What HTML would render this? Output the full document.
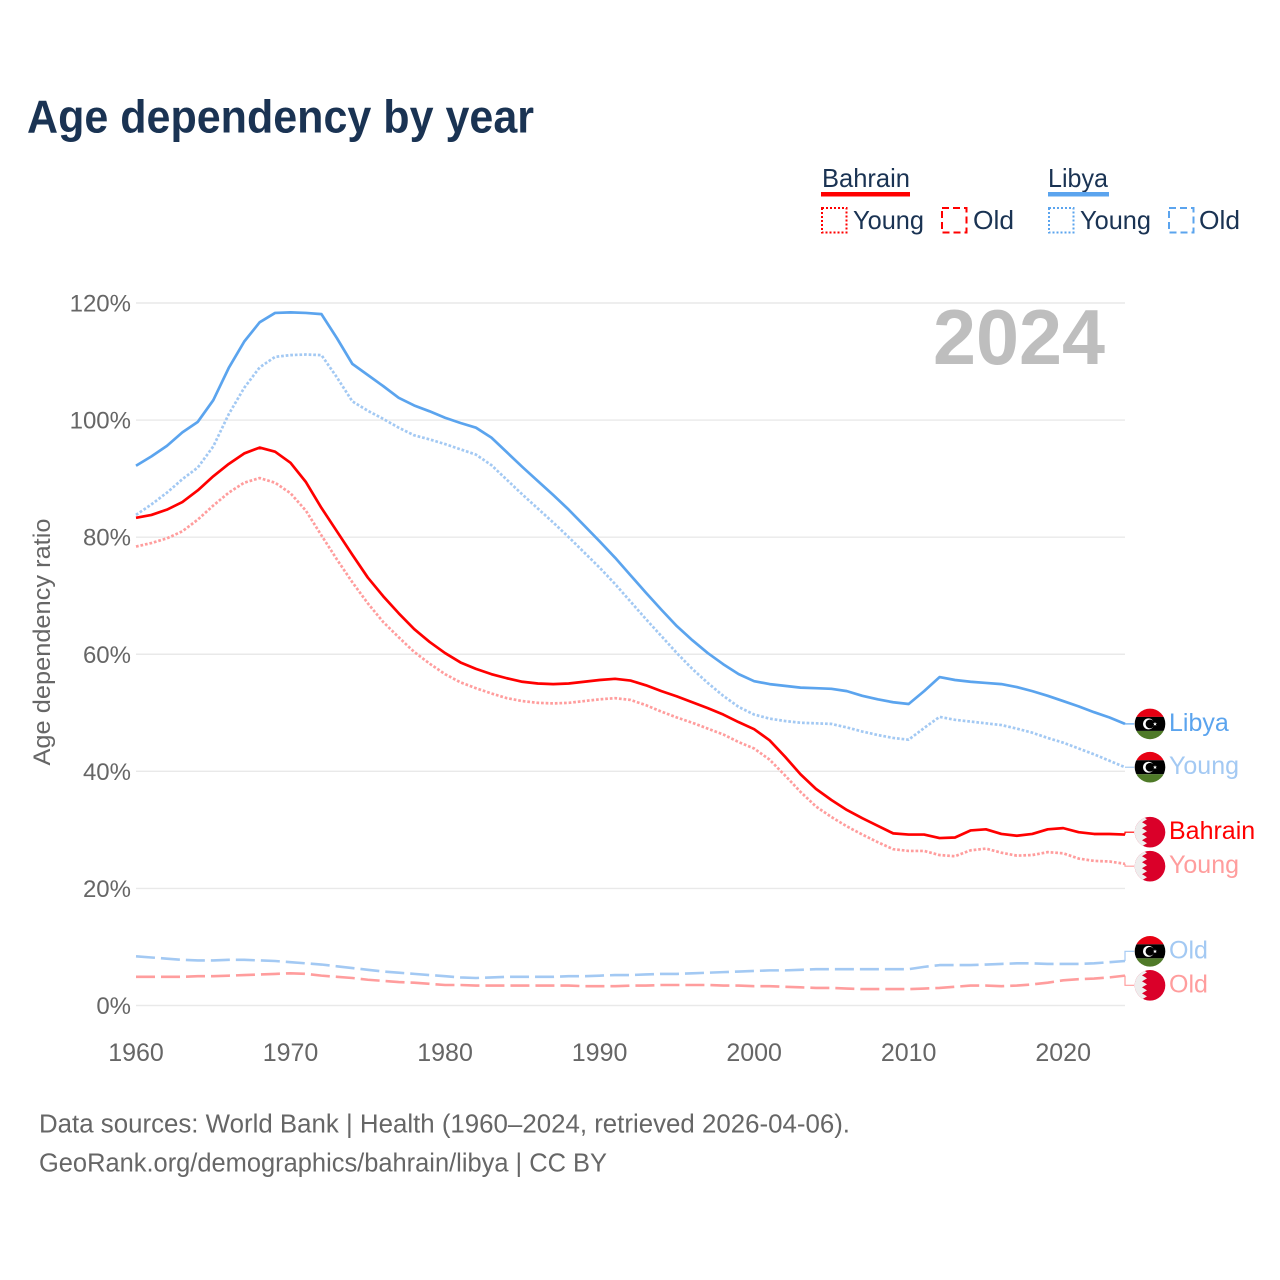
<!DOCTYPE html>
<html lang="en">
<head>
<meta charset="utf-8">
<title>Age dependency by year</title>
<style>
  html, body { margin: 0; padding: 0; background: #fff; }
  svg { display: block; }
  text { font-family: "Liberation Sans", sans-serif; }
</style>
</head>
<body>
<svg id="chart" xmlns="http://www.w3.org/2000/svg" width="1280" height="1280" viewBox="0 0 1280 1280">
  <defs>
    <clipPath id="flag-clip"><circle cx="0" cy="0" r="15.3"></circle></clipPath>
    <g id="flag-libya" clip-path="url(#flag-clip)">
      <rect x="-16" y="-16" width="32" height="9" fill="#e70013"></rect>
      <rect x="-16" y="-7" width="32" height="14" fill="#000"></rect>
      <rect x="-16" y="7" width="32" height="9" fill="#4f7a28"></rect>
      <circle cx="-1.5" cy="0" r="5.5" fill="#fff"></circle>
      <circle cx="0" cy="0" r="4.4" fill="#000"></circle>
      <polygon points="5,-2 5.6,-0.6 7,-0.6 5.9,0.3 6.3,1.8 5,0.9 3.7,1.8 4.1,0.3 3,-0.6 4.4,-0.6" fill="#fff"></polygon>
    </g>
    <g id="flag-bahrain" clip-path="url(#flag-clip)">
      <rect x="-16" y="-16" width="32" height="32" fill="#da0029"></rect>
      <polygon points="-16,-16 -8,-16 -3,-13 -8,-10 -3,-7 -8,-4 -3,-1 -8,2 -3,5 -8,8 -3,11 -8,14 -4,16 -16,16" fill="#eeeeee"></polygon>
    </g>
  </defs>

  <rect x="0" y="0" width="1280" height="1280" fill="#ffffff"></rect>

  <text x="27" y="132.5" font-size="46.5" font-weight="700" fill="#1a3353" textLength="507" lengthAdjust="spacingAndGlyphs">Age dependency by year</text>

  <g>
    <g>
      <text x="822" y="187" font-size="26" fill="#1a3353" textLength="88" lengthAdjust="spacingAndGlyphs">Bahrain</text>
      <rect x="821" y="192" width="89" height="4.5" fill="#ff0000"></rect>
    </g>
    <g>
      <rect x="822" y="208" width="24.5" height="24.5" fill="none" stroke="#ff0000" stroke-width="2" stroke-dasharray="2 2"></rect>
      <text x="853" y="229" font-size="26" fill="#1a3353" textLength="71" lengthAdjust="spacingAndGlyphs">Young</text>
    </g>
    <g>
      <rect x="942" y="208" width="24.5" height="24.5" fill="none" stroke="#ff0000" stroke-width="2" stroke-dasharray="7 4"></rect>
      <text x="973" y="229" font-size="26" fill="#1a3353" textLength="41" lengthAdjust="spacingAndGlyphs">Old</text>
    </g>
    <g>
      <text x="1048" y="187" font-size="26" fill="#1a3353" textLength="60" lengthAdjust="spacingAndGlyphs">Libya</text>
      <rect x="1048" y="192" width="61" height="4.5" fill="#5ba4ee"></rect>
    </g>
    <g>
      <rect x="1049" y="208" width="24.5" height="24.5" fill="none" stroke="#5ba4ee" stroke-width="2" stroke-dasharray="2 2"></rect>
      <text x="1080" y="229" font-size="26" fill="#1a3353" textLength="71" lengthAdjust="spacingAndGlyphs">Young</text>
    </g>
    <g>
      <rect x="1169" y="208" width="24.5" height="24.5" fill="none" stroke="#5ba4ee" stroke-width="2" stroke-dasharray="7 4"></rect>
      <text x="1199" y="229" font-size="26" fill="#1a3353" textLength="41" lengthAdjust="spacingAndGlyphs">Old</text>
    </g>
  </g>

  <text transform="translate(50,642) rotate(-90)" text-anchor="middle" font-size="24.5" fill="#666666" textLength="247" lengthAdjust="spacingAndGlyphs">Age dependency ratio</text>

  <g id="grid"></g>
  <g id="y-ticks"></g>
  <g id="x-ticks"></g>

  <text x="1105" y="364" text-anchor="end" font-size="78" font-weight="700" fill="#bebebe" textLength="172" lengthAdjust="spacingAndGlyphs">2024</text>

  <g id="series"></g>
  <g id="end-labels"></g>

  <text x="39" y="1132.5" font-size="25.5" fill="#666666" textLength="811" lengthAdjust="spacingAndGlyphs">Data sources: World Bank | Health (1960–2024, retrieved 2026-04-06).</text>
  <text x="39" y="1171.5" font-size="25.5" fill="#666666" textLength="568" lengthAdjust="spacingAndGlyphs">GeoRank.org/demographics/bahrain/libya | CC BY</text>
</svg>

<script>
const years = [
  1960,1961,1962,1963,1964,1965,1966,1967,1968,1969,
  1970,1971,1972,1973,1974,1975,1976,1977,1978,1979,
  1980,1981,1982,1983,1984,1985,1986,1987,1988,1989,
  1990,1991,1992,1993,1994,1995,1996,1997,1998,1999,
  2000,2001,2002,2003,2004,2005,2006,2007,2008,2009,
  2010,2011,2012,2013,2014,2015,2016,2017,2018,2019,
  2020,2021,2022,2023,2024
];
const libyaTotal = [
  92.2,93.8,95.6,97.9,99.7,103.4,108.9,113.4,116.7,118.3,
  118.4,118.3,118.1,114.0,109.6,107.7,105.8,103.8,102.5,101.5,
  100.4,99.5,98.7,97.0,94.5,92.0,89.6,87.2,84.7,82.0,
  79.3,76.5,73.5,70.5,67.6,64.8,62.4,60.2,58.3,56.6,
  55.4,54.9,54.6,54.3,54.2,54.1,53.7,52.9,52.3,51.8,
  51.5,53.7,56.1,55.6,55.3,55.1,54.9,54.4,53.7,52.9,
  52.0,51.1,50.1,49.2,48.1
];
const libyaYoung = [
  83.8,85.6,87.6,89.9,91.9,95.5,101.0,105.5,109.0,110.8,
  111.1,111.2,111.1,107.3,103.2,101.6,100.2,98.7,97.4,96.7,
  95.9,95.0,94.1,92.3,89.8,87.3,84.9,82.5,80.0,77.4,
  74.8,72.0,69.0,66.0,63.1,60.2,57.5,55.1,52.9,51.0,
  49.7,49.0,48.6,48.3,48.2,48.1,47.5,46.8,46.2,45.7,
  45.4,47.4,49.3,48.8,48.5,48.2,47.9,47.3,46.6,45.7,
  44.9,43.9,42.9,41.8,40.7
];
const libyaOld = [
  8.4,8.2,8.0,7.8,7.7,7.7,7.8,7.8,7.7,7.6,
  7.4,7.2,7.0,6.7,6.4,6.1,5.8,5.6,5.4,5.2,
  5.0,4.8,4.7,4.8,4.9,4.9,4.9,4.9,5.0,5.0,
  5.1,5.2,5.2,5.3,5.4,5.4,5.5,5.6,5.7,5.8,
  5.9,6.0,6.0,6.1,6.2,6.2,6.2,6.2,6.2,6.2,
  6.2,6.6,6.9,6.9,6.9,7.0,7.1,7.2,7.2,7.1,
  7.1,7.1,7.2,7.4,7.6
];
const bahrainTotal = [
  83.3,83.8,84.7,86.0,88.0,90.4,92.5,94.3,95.3,94.6,
  92.7,89.4,85.0,81.0,77.0,73.1,69.9,67.0,64.3,62.1,
  60.2,58.6,57.5,56.6,55.9,55.3,55.0,54.9,55.0,55.3,
  55.6,55.8,55.5,54.7,53.7,52.8,51.8,50.8,49.7,48.4,
  47.2,45.3,42.5,39.5,37.0,35.1,33.4,32.0,30.7,29.4,
  29.2,29.2,28.6,28.7,29.9,30.1,29.3,29.0,29.3,30.1,
  30.3,29.6,29.3,29.3,29.2
];
const bahrainYoung = [
  78.4,79.0,79.8,81.0,83.0,85.4,87.6,89.3,90.1,89.3,
  87.5,84.5,80.3,76.2,72.3,68.7,65.5,62.9,60.4,58.4,
  56.6,55.2,54.2,53.3,52.5,52.0,51.7,51.6,51.7,52.0,
  52.3,52.5,52.2,51.3,50.2,49.2,48.3,47.3,46.3,45.0,
  43.9,42.0,39.3,36.5,34.0,32.2,30.6,29.2,27.9,26.7,
  26.4,26.4,25.7,25.5,26.5,26.8,26.1,25.6,25.7,26.2,
  26.0,25.1,24.7,24.6,24.2
];
const bahrainOld = [
  4.9,4.9,4.9,4.9,5.0,5.0,5.1,5.2,5.3,5.4,
  5.5,5.4,5.1,4.9,4.7,4.4,4.2,4.0,3.9,3.7,
  3.5,3.5,3.4,3.4,3.4,3.4,3.4,3.4,3.4,3.3,
  3.3,3.3,3.4,3.4,3.5,3.5,3.5,3.5,3.4,3.4,
  3.3,3.3,3.2,3.1,3.0,3.0,2.9,2.8,2.8,2.8,
  2.8,2.9,3.0,3.2,3.4,3.4,3.3,3.4,3.6,3.9,
  4.3,4.5,4.6,4.8,5.1
];
const yTickValues = [0, 20, 40, 60, 80, 100, 120];
const xTickValues = [1960, 1970, 1980, 1990, 2000, 2010, 2020];

const SVG_NS = 'http://www.w3.org/2000/svg';
const xScale = function (year) { return 136 + (year - 1960) * (1125 - 136) / (2024 - 1960); };
const yScale = function (value) { return 1005.5 - value * (1005.5 - 303) / 120; };

function make(tag, parent) {
  const el = document.createElementNS(SVG_NS, tag);
  parent.appendChild(el);
  return el;
}

const gridGroup = document.getElementById('grid');
const yTickGroup = document.getElementById('y-ticks');
yTickValues.forEach(function (value) {
  const line = make('line', gridGroup);
  
  
  line.setAttribute('x1', 136);
  line.setAttribute('x2', 1125);
  line.setAttribute('y1', yScale(value));
  line.setAttribute('y2', yScale(value));
  line.setAttribute('stroke', '#e9e9e9');
  line.setAttribute('stroke-width', '1.4');

  const label = make('text', yTickGroup);
  
  
  label.setAttribute('x', 131);
  label.setAttribute('y', yScale(value) + 8.5);
  label.setAttribute('text-anchor', 'end');
  label.setAttribute('font-size', '24');
  label.setAttribute('fill', '#666666');
  label.textContent = value + '%';
});

const xTickGroup = document.getElementById('x-ticks');
xTickValues.forEach(function (year) {
  const label = make('text', xTickGroup);
  
  
  label.setAttribute('x', xScale(year));
  label.setAttribute('y', 1061);
  label.setAttribute('text-anchor', 'middle');
  label.setAttribute('font-size', '25');
  label.setAttribute('fill', '#666666');
  label.textContent = year;
});

const seriesList = [
  { id: 'libya-old', label: 'Old', values: libyaOld, color: '#a3c9f3', width: 2.6, dash: '19 6', flag: 'flag-libya' },
  { id: 'bahrain-old', label: 'Old', values: bahrainOld, color: '#ff9d9d', width: 2.6, dash: '19 6', flag: 'flag-bahrain' },
  { id: 'libya-young', label: 'Young', values: libyaYoung, color: '#a3c9f3', width: 2.7, dash: '2.7 1.9', flag: 'flag-libya' },
  { id: 'bahrain-young', label: 'Young', values: bahrainYoung, color: '#ff9d9d', width: 2.7, dash: '2.7 1.9', flag: 'flag-bahrain' },
  { id: 'libya-total', label: 'Libya', values: libyaTotal, color: '#5ba4ee', width: 2.7, dash: '', flag: 'flag-libya' },
  { id: 'bahrain-total', label: 'Bahrain', values: bahrainTotal, color: '#ff0000', width: 2.7, dash: '', flag: 'flag-bahrain' }
];

// Dodge end labels so that neighbours keep a minimum vertical gap.
const MIN_LABEL_GAP = 34;
const ordered = seriesList.slice().sort(function (a, b) {
  return a.values[a.values.length - 1] < b.values[b.values.length - 1] ? 1 : -1;
});
ordered.forEach(function (s) { s.labelY = yScale(s.values[s.values.length - 1]); });
for (let pass = 0; pass < 8; pass++) {
  for (let i = 1; i < ordered.length; i++) {
    const overlap = MIN_LABEL_GAP - (ordered[i].labelY - ordered[i - 1].labelY);
    if (overlap > 0) {
      ordered[i - 1].labelY -= overlap / 2;
      ordered[i].labelY += overlap / 2;
    }
  }
}

const seriesGroup = document.getElementById('series');
const labelGroup = document.getElementById('end-labels');
seriesList.forEach(function (s) {
  const d = s.values.map(function (v, i) {
    return (i === 0 ? 'M' : 'L') + xScale(years[i]).toFixed(2) + ',' + yScale(v).toFixed(2);
  }).join(' ');
  const path = make('path', seriesGroup);
  
  
  path.setAttribute('d', d);
  path.setAttribute('fill', 'none');
  path.setAttribute('stroke', s.color);
  path.setAttribute('stroke-width', s.width);
  path.setAttribute('stroke-linejoin', 'round');
  if (s.dash) { path.setAttribute('stroke-dasharray', s.dash); }

  const lastY = yScale(s.values[s.values.length - 1]);
  const connector = make('path', labelGroup);
  
  
  connector.setAttribute('d', 'M1125,' + lastY.toFixed(2) + ' V' + s.labelY.toFixed(2) + ' H1134');
  connector.setAttribute('fill', 'none');
  connector.setAttribute('stroke', s.color);
  connector.setAttribute('stroke-width', '1.2');

  const flag = make('use', labelGroup);
  
  
  flag.setAttribute('href', '#' + s.flag);
  flag.setAttribute('x', 1150);
  flag.setAttribute('y', s.labelY);

  const label = make('text', labelGroup);
  
  
  label.setAttribute('x', 1169);
  label.setAttribute('y', s.labelY + 7);
  label.setAttribute('font-size', '25');
  label.setAttribute('fill', s.color);
  label.textContent = s.label;
});
</script>
</body>
</html>
